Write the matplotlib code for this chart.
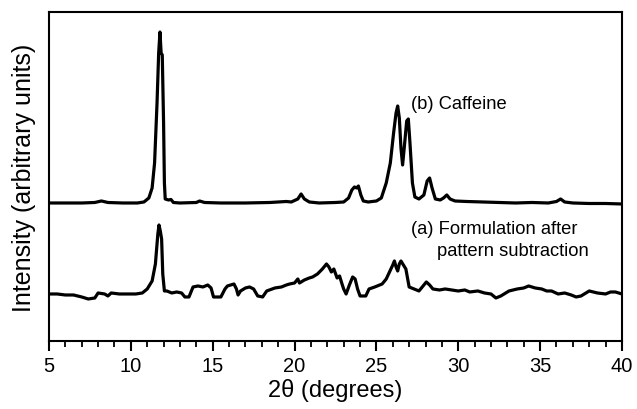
import matplotlib.pyplot as plt
from matplotlib.ticker import MultipleLocator

plt.rcParams['font.family'] = ['Liberation Sans', 'DejaVu Sans']

# (b) Caffeine : 2theta et intensité au-dessus de la ligne de base
caf_2theta = [5.0, 6.0, 7.0, 7.8, 8.2, 8.6, 9.5, 10.4, 10.8, 11.1, 11.3, 11.45, 11.6, 11.7,
              11.78, 11.85, 11.92, 12.0, 12.05, 12.1, 12.3, 12.45, 12.6, 13.0, 14.0, 14.2,
              14.5, 15.5, 17.0, 18.5, 19.5, 19.8, 20.2, 20.4, 20.6, 20.9, 21.5, 22.5, 23.0,
              23.3, 23.5, 23.66, 23.8, 23.9, 24.05, 24.2, 24.5, 25.0, 25.3, 25.6, 25.85,
              26.05, 26.2, 26.3, 26.4, 26.5, 26.6, 26.7, 26.85, 26.95, 27.05, 27.2, 27.35,
              27.6, 27.9, 28.1, 28.25, 28.4, 28.6, 28.9, 29.1, 29.3, 29.5, 29.8, 30.5, 31.5,
              32.5, 33.5, 34.5, 35.5, 36.0, 36.25, 36.5, 37.0, 38.0, 39.0, 40.0]
caf_int = [0, 0, 0, 0.5, 2, 0.5, 0, 0, 1, 5, 15, 40, 100, 150,
           171, 150, 148, 80, 20, 4, 3, 3.5, 0.5, 0, 0.5, 2,
           0.5, 0, 0, 0.5, 1.5, 1, 4, 9, 4, 1, 0, 0.5, 1,
           5, 13, 16, 15, 17, 8, 2, 1, 2, 5, 20, 40,
           70, 90, 97, 85, 55, 38, 55, 82, 84, 60, 20, 6,
           4, 8, 22, 25, 15, 4, 3, 5, 8, 4, 2, 1.5, 1,
           0.5, 0, 0.5, 0, 1.5, 4, 1, 0, -0.5, -0.5, -1]

# (a) Formulation après soustraction
form_2theta = [5.0, 5.5, 6.0, 6.5, 7.0, 7.4, 7.8, 8.0, 8.4, 8.6, 8.8, 9.3, 9.8, 10.3, 10.7,
               11.0, 11.3, 11.5, 11.65, 11.72, 11.8, 11.88, 11.95, 12.05, 12.2, 12.5, 12.8,
               13.1, 13.3, 13.55, 13.8, 14.1, 14.4, 14.7, 14.9, 15.05, 15.5, 15.75, 15.9,
               16.3, 16.45, 16.55, 16.7, 17.0, 17.25, 17.5, 17.75, 18.05, 18.3, 18.8, 19.2,
               19.5, 19.7, 20.0, 20.2, 20.3, 20.6, 20.9, 21.1, 21.4, 21.7, 21.95, 22.1,
               22.25, 22.4, 22.6, 22.75, 22.9, 23.0, 23.15, 23.35, 23.55, 23.7, 23.85, 24.0,
               24.35, 24.55, 24.9, 25.35, 25.6, 25.8, 26.0, 26.1, 26.2, 26.3, 26.4, 26.5,
               26.65, 26.8, 27.0, 27.3, 27.6, 27.85, 28.05, 28.25, 28.45, 28.85, 29.2, 29.6,
               30.0, 30.4, 30.7, 31.2, 31.6, 32.0, 32.3, 32.6, 33.1, 33.6, 34.0, 34.3, 34.7,
               35.1, 35.4, 35.7, 36.1, 36.5, 36.9, 37.2, 37.5, 37.8, 38.0, 38.5, 39.0, 39.3,
               39.6, 40.0]
form_int = [1, 1, 0, 0, -2, -4, -3, 2, 1, -1, 2, 1, 1, 1, 2,
            6, 14, 31, 61, 70, 64, 56, 21, 4, 4, 2, 3,
            2, -2, -2, 8, 9, 8, 10, 7, -2, -2, 6, 9,
            11, 6, 0, 4, 7, 8, 6, -1, -2, 4, 7, 8,
            10, 11, 12, 16, 12, 15, 17, 18, 21, 26, 31, 28,
            23, 26, 17, 19, 11, 6, 1, 10, 18, 16, 6, -1,
            -1, 6, 8, 11, 16, 23, 30, 34, 28, 24, 31, 34,
            30, 26, 8, 6, 4, 9, 13, 10, 6, 5, 6, 5,
            4, 5, 3, 4, 2, 1, -3, -1, 4, 6, 7, 9, 7,
            6, 4, 4, 1, 2, 0, -2, -1, 2, 4, 2, 1, 3,
            3, 1]

caf_offset = 138
form_offset = 46

fig = plt.figure(figsize=(6.37, 4.10), dpi=100)
ax = fig.add_axes([0.0769, 0.1659, 0.8995, 0.8024])

ax.plot(caf_2theta, [v + caf_offset for v in caf_int], c='black', lw=2.3)
ax.plot(form_2theta, [v + form_offset for v in form_int], c='black', lw=2.3)

ax.set_xlim(5, 40)
ax.set_ylim(0, 329)
ax.xaxis.set_major_locator(MultipleLocator(5))
ax.xaxis.set_minor_locator(MultipleLocator(1))
ax.tick_params(axis='x', which='major', direction='out', length=7, width=1.5,
               labelsize=14.5, pad=4)
ax.tick_params(axis='x', which='minor', direction='out', length=4.5, width=1.3)
ax.set_yticks([])
for s in ax.spines.values():
    s.set_linewidth(1.5)

ax.set_xlabel('2θ (degrees)', fontsize=17, labelpad=2)
ax.set_ylabel('Intensity (arbitrary units)', fontsize=18, labelpad=9)

ax.text(27.1, 237, '(b) Caffeine', fontsize=13.2, ha='left', va='center')
ax.text(27.1, 112, '(a) Formulation after', fontsize=13.2, ha='left', va='center')
ax.text(28.7, 90, 'pattern subtraction', fontsize=13.2, ha='left', va='center')

fig.savefig('out.png', dpi=100)
